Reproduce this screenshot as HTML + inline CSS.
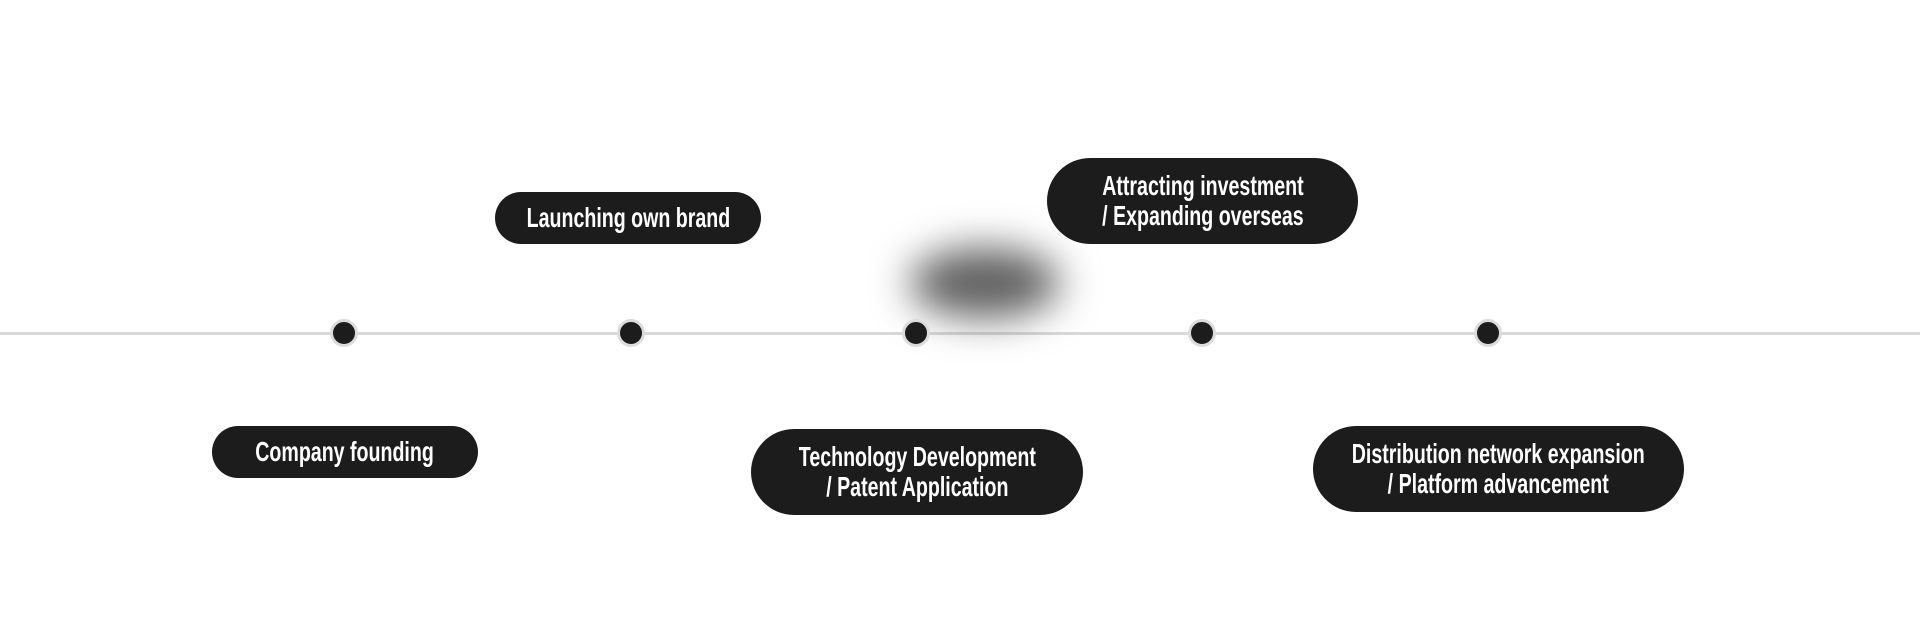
<!DOCTYPE html>
<html><head><style>
html,body{margin:0;padding:0;background:#fff;width:1920px;height:644px;overflow:hidden;position:relative;font-family:"Liberation Sans Narrow","Liberation Sans",sans-serif;}
.line{position:absolute;left:0;top:332px;width:1920px;height:3px;background:#d9d9d9;}
.dot{position:absolute;width:28px;height:28px;border-radius:50%;background:#1c1c1c;border:3px solid #dcdcdc;box-sizing:border-box;top:319px;}
.box{position:absolute;background:#1c1c1c;color:#fff;border-radius:44px;display:flex;align-items:center;justify-content:center;text-align:center;font-size:28px;line-height:30px;font-weight:bold;}
.box span{display:inline-block;transform:scaleX(0.7);white-space:nowrap;}
.blob{position:absolute;left:910px;top:248px;width:150px;height:70px;border-radius:50%;background:#606060;filter:blur(20px);}
</style></head><body>
<div class="line"></div>
<div class="blob"></div>
<div class="dot" style="left:330px"></div>
<div class="dot" style="left:617px"></div>
<div class="dot" style="left:902px"></div>
<div class="dot" style="left:1188px"></div>
<div class="dot" style="left:1474px"></div>
<div class="box" style="left:212px;top:426px;width:266px;height:52px"><span>Company founding</span></div>
<div class="box" style="left:495px;top:192px;width:266px;height:52px"><span>Launching own brand</span></div>
<div class="box" style="left:751px;top:429px;width:332px;height:86px"><span>Technology Development<br>/ Patent Application</span></div>
<div class="box" style="left:1047px;top:158px;width:311px;height:86px"><span>Attracting investment<br>/ Expanding overseas</span></div>
<div class="box" style="left:1313px;top:426px;width:371px;height:86px"><span>Distribution network expansion<br>/ Platform advancement</span></div>
</body></html>
